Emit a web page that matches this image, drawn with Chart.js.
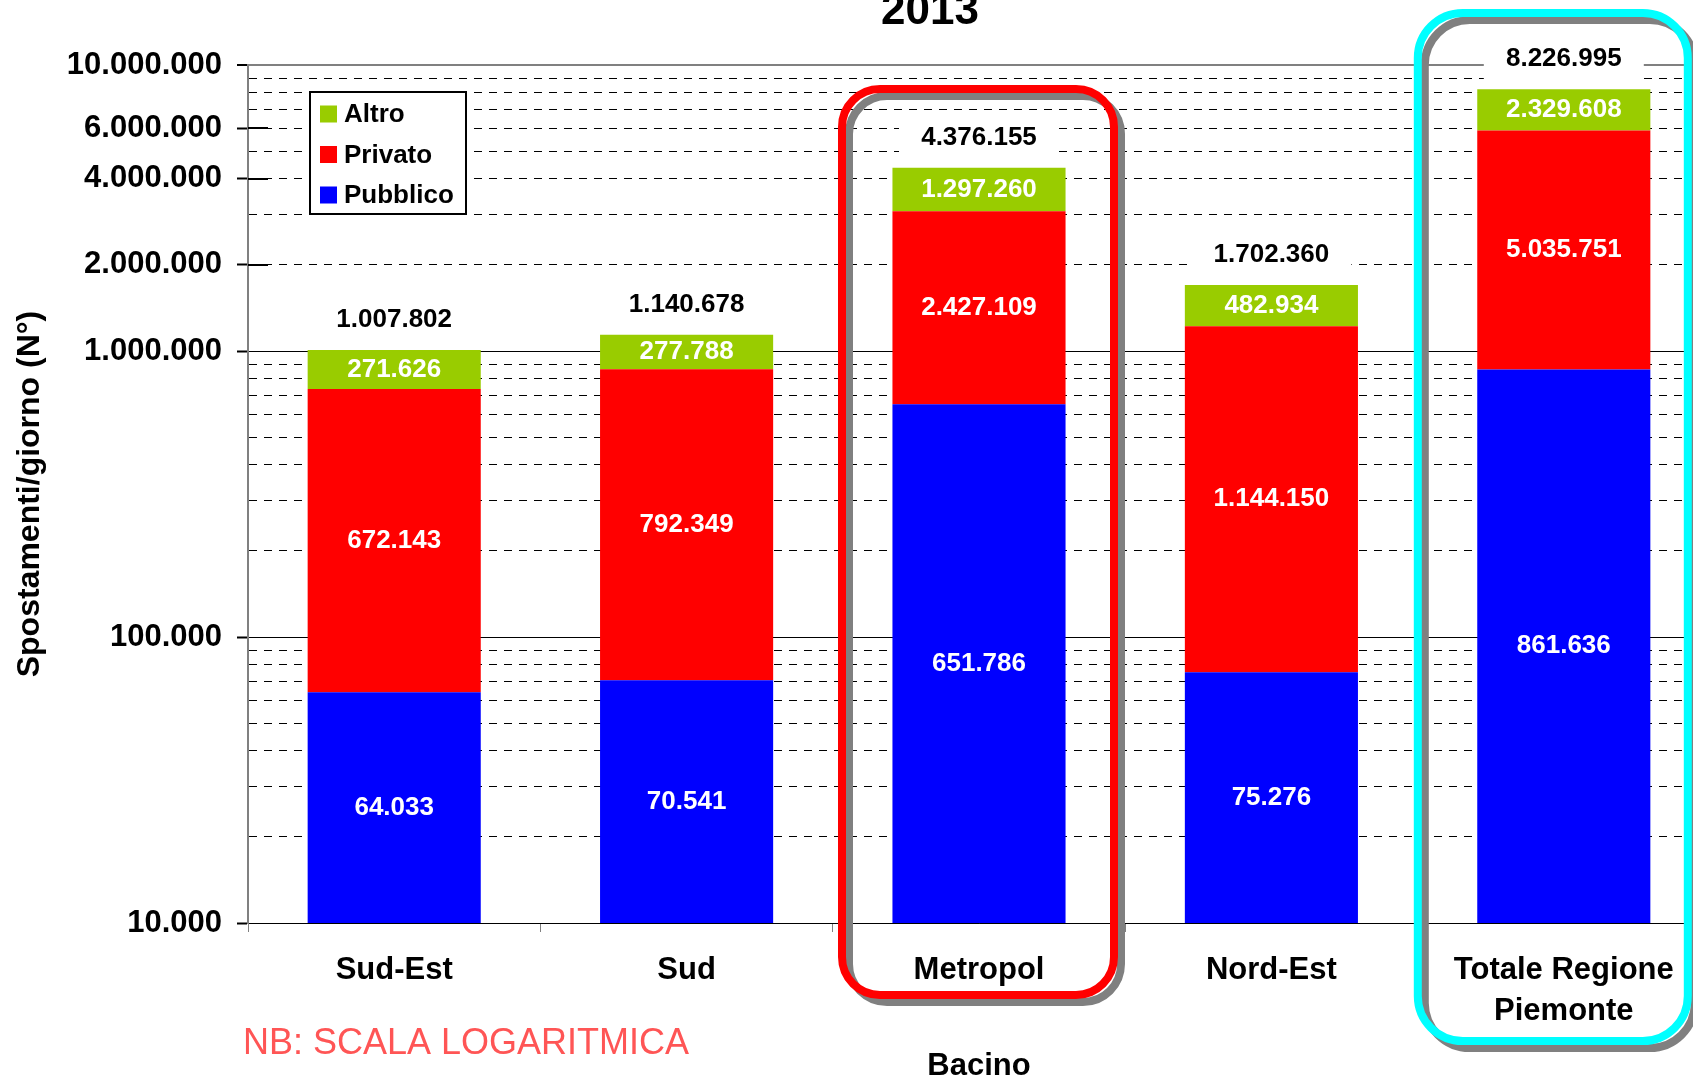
<!DOCTYPE html>
<html>
<head>
<meta charset="utf-8">
<script src="https://cdn.jsdelivr.net/npm/chart.js@4.4.1/dist/chart.umd.min.js"></script>
<style>
  html, body { margin: 0; padding: 0; background: #fff; overflow: hidden; width: 1693px; height: 1080px; }
  #wrap { position: absolute; left: 0; top: -20px; width: 1856px; height: 1120px; }
</style>
</head>
<body>
<div id="wrap"><canvas id="chart" width="1856" height="1120"></canvas></div>
<script>
// data
const categories = ['Sud-Est', 'Sud', 'Metropol', 'Nord-Est', ['Totale Regione', 'Piemonte']];
const pubblico = [64033, 70541, 651786, 75276, 861636];
const privato = [672143, 792349, 2427109, 1144150, 5035751];
const altro = [271626, 277788, 1297260, 482934, 2329608];

// gridline values (log scale, 1..9 per decade) and the ones that carry a label
const yGrid = [
    10000, 20000, 30000, 40000, 50000, 60000, 70000, 80000, 90000,
    100000, 200000, 300000, 400000, 500000, 600000, 700000, 800000, 900000,
    1000000, 2000000, 3000000, 4000000, 5000000, 6000000, 7000000, 8000000, 9000000,
    10000000
];
const yLabelled = [10000, 100000, 1000000, 2000000, 4000000, 6000000, 10000000];
const decades = [10000, 100000, 1000000, 10000000];

const FONT = '"Liberation Sans", Arial, sans-serif';
Chart.defaults.font.family = FONT;

function fmt(v) {
    return String(v).replace(/\B(?=(\d{3})+(?!\d))/g, '.');
}

function roundRectPath(ctx, x1, y1, x2, y2, r) {
    ctx.beginPath();
    ctx.moveTo(x1 + r, y1);
    ctx.lineTo(x2 - r, y1);
    ctx.arcTo(x2, y1, x2, y1 + r, r);
    ctx.lineTo(x2, y2 - r);
    ctx.arcTo(x2, y2, x2 - r, y2, r);
    ctx.lineTo(x1 + r, y2);
    ctx.arcTo(x1, y2, x1, y2 - r, r);
    ctx.lineTo(x1, y1 + r);
    ctx.arcTo(x1, y1, x1 + r, y1, r);
    ctx.closePath();
}

// value labels inside the segments + totals on top
const labelsPlugin = {
    id: 'labels',
    afterDatasetsDraw(chart) {
        const ctx = chart.ctx;
        ctx.save();
        ctx.textAlign = 'center';
        ctx.textBaseline = 'middle';
        ctx.font = 'bold 26px ' + FONT;
        chart.data.datasets.forEach((ds, di) => {
            const meta = chart.getDatasetMeta(di);
            meta.data.forEach((bar, i) => {
                ctx.fillStyle = '#fff';
                ctx.fillText(fmt(ds.data[i]), bar.x, (bar.y + bar.base) / 2);
            });
        });
        const topMeta = chart.getDatasetMeta(chart.data.datasets.length - 1);
        topMeta.data.forEach((bar, i) => {
            const total = pubblico[i] + privato[i] + altro[i];
            const y = bar.y - 30;
            ctx.fillStyle = '#fff';
            ctx.fillRect(bar.x - 80, y - 25, 160, 50);
            ctx.fillStyle = '#000';
            ctx.fillText(fmt(total), bar.x, y);
        });
        ctx.restore();
    }
};

// rounded frames, legend, title, note
const decoPlugin = {
    id: 'deco',
    afterDraw(chart) {
        const ctx = chart.ctx;
        const xs = chart.scales.x;
        const ys = chart.scales.y;
        const area = chart.chartArea;
        ctx.save();

        // longer ticks at 2M, 4M, 6M
        ctx.strokeStyle = '#000';
        ctx.lineWidth = 2;
        [2000000, 4000000, 6000000].forEach(v => {
            const y = Math.round(ys.getPixelForValue(v));
            ctx.beginPath();
            ctx.moveTo(area.left, y);
            ctx.lineTo(area.left + 20, y);
            ctx.stroke();
        });

        const frames = [
            { index: 2, color: '#FF0000', left: -137, right: 135, top: 109, bottom: 1015, r: 38 },
            { index: 4, color: '#00FFFF', left: -146, right: 124, top: 33, bottom: 1061, r: 45 }
        ];
        frames.forEach(f => {
            const cx = xs.getPixelForValue(f.index);
            ctx.lineWidth = 8;
            ctx.strokeStyle = '#808080';
            roundRectPath(ctx, cx + f.left + 7, f.top + 7, cx + f.right + 7, f.bottom + 7, f.r);
            ctx.stroke();
            ctx.strokeStyle = f.color;
            roundRectPath(ctx, cx + f.left, f.top, cx + f.right, f.bottom, f.r);
            ctx.stroke();
        });

        // legend
        ctx.fillStyle = '#fff';
        ctx.fillRect(310, 112, 156, 122);
        ctx.lineWidth = 2;
        ctx.strokeStyle = '#000';
        ctx.strokeRect(310, 112, 156, 122);
        ctx.font = 'bold 26px ' + FONT;
        ctx.textAlign = 'left';
        ctx.textBaseline = 'middle';
        const items = chart.data.datasets.slice().reverse();
        items.forEach((ds, i) => {
            const y = 134 + i * 40.5;
            ctx.fillStyle = ds.backgroundColor;
            ctx.fillRect(320, y - 8.5, 17, 17);
            ctx.fillStyle = '#000';
            ctx.fillText(ds.label, 344, y + 1);
        });

        // title (cut at the top in the original)
        ctx.font = 'bold 44px ' + FONT;
        ctx.textAlign = 'center';
        ctx.textBaseline = 'alphabetic';
        ctx.fillStyle = '#000';
        ctx.fillText('2013', 930, 44);

        // note
        ctx.font = '36px ' + FONT;
        ctx.textAlign = 'left';
        ctx.fillStyle = '#FF5555';
        ctx.fillText('NB: SCALA LOGARITMICA', 243, 1074);

        ctx.restore();
    }
};

const tickValue = ctx => (ctx.tick ? ctx.tick.value : undefined);

new Chart(document.getElementById('chart'), {
    type: 'bar',
    data: {
        labels: categories,
        datasets: [
            { label: 'Pubblico', data: pubblico, backgroundColor: '#0000FF' },
            { label: 'Privato', data: privato, backgroundColor: '#FF0000' },
            { label: 'Altro', data: altro, backgroundColor: '#99CC00' }
        ]
    },
    options: {
        responsive: false,
        animation: false,
        layout: { padding: { top: 85, right: 146, bottom: 0, left: 0 } },
        datasets: { bar: { barPercentage: 0.592, categoryPercentage: 1.0, borderWidth: 0 } },
        plugins: {
            legend: { display: false },
            title: { display: false },
            tooltip: { enabled: false }
        },
        scales: {
            x: {
                stacked: true,
                offset: true,
                grid: { offset: true, drawOnChartArea: false, tickLength: 9, color: '#808080', lineWidth: 1 },
                border: { color: '#000', width: 1 },
                ticks: {
                    color: '#000', padding: 18, maxRotation: 0, autoSkip: false,
                    font: { size: 31, weight: 'bold', lineHeight: 1.33 }
                },
                title: {
                    display: true, text: 'Bacino', color: '#000',
                    font: { size: 31, weight: 'bold' }, padding: { top: 0, bottom: 15 }
                },
                afterFit: s => { s.height = 177; }
            },
            y: {
                type: 'logarithmic',
                stacked: true,
                min: 10000,
                max: 10000000,
                afterBuildTicks: s => { s.ticks = yGrid.map(v => ({ value: v })); },
                afterFit: s => { s.width = 248; },
                ticks: {
                    autoSkip: false, color: '#000', padding: 15,
                    font: { size: 31, weight: 'bold' },
                    callback: v => (yLabelled.includes(v) ? fmt(v) : '')
                },
                grid: {
                    color: ctx => (tickValue(ctx) === 10000000 ? '#808080' : '#000'),
                    lineWidth: ctx => (tickValue(ctx) === 10000000 ? 2 : 1),
                    tickLength: 11,
                    tickWidth: 2,
                    tickColor: ctx => (yLabelled.includes(tickValue(ctx)) ? '#000' : 'rgba(0,0,0,0)')
                },
                border: {
                    color: '#808080', width: 2,
                    dash: ctx => (ctx.tick && !decades.includes(ctx.tick.value) ? [8, 7] : [])
                },
                title: {
                    display: true, text: 'Spostamenti/giorno (N°)', color: '#000',
                    font: { size: 32, weight: 'bold' }, padding: { top: 11, bottom: 0 }
                }
            }
        }
    },
    plugins: [labelsPlugin, decoPlugin]
});
</script>
</body>
</html>
